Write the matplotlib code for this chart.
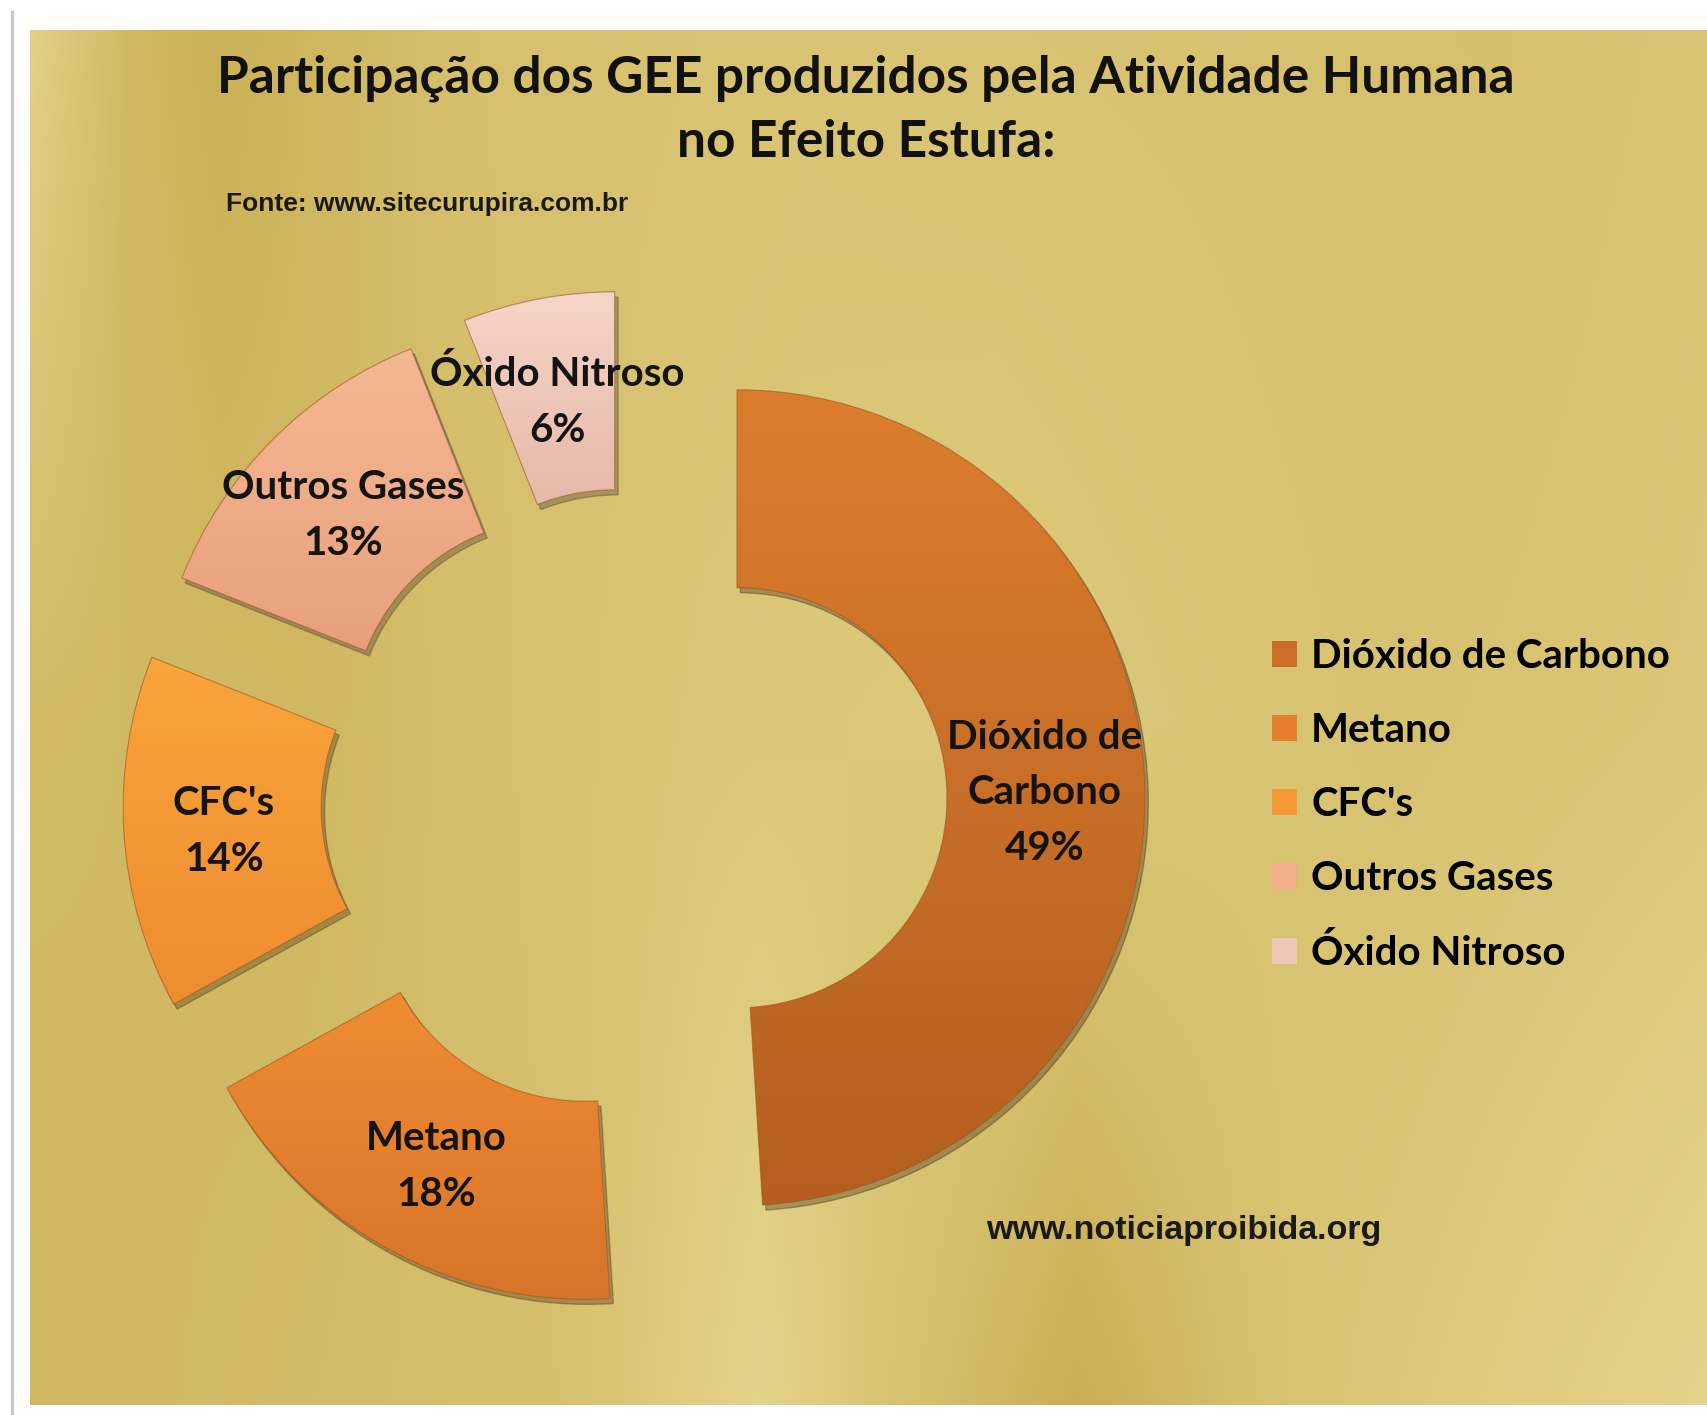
import numpy as np
import matplotlib
matplotlib.use('Agg')
import matplotlib.pyplot as plt
from matplotlib.colors import to_rgb

# --- DATA ---
gases = ["Dióxido de Carbono", "Metano", "CFC's", "Outros Gases", "Óxido Nitroso"]
slice_names = ["Dióxido de\nCarbono", "Metano", "CFC's", "Outros Gases", "Óxido Nitroso"]
shares = [49, 18, 14, 13, 6]

title_text = "Participação dos GEE produzidos pela Atividade Humana\nno Efeito Estufa:"
source_text = "Fonte: www.sitecurupira.com.br"
site_text = "www.noticiaproibida.org"

# --- STYLE ---
W, H, DPI = 1707, 1415, 100
cx, cy, R = 634, 801, 408          # pie centre / outer radius in pixels (from top-left)
ring_width = 1 - 210 / 408
explode_frac = 103 / 408

base_colors = ['#C96D27', '#E57F2E', '#F59836', '#F0AD88', '#EFC7B8']
top_colors = ['#DC7D2E', '#F08C32', '#FAA43C', '#F5B893', '#F6D5C8']
bottom_colors = ['#B45F20', '#D8742A', '#EE8C2F', '#E8A07C', '#E6B8A8']

label_font = dict(family=['Lato', 'DejaVu Sans'], fontweight='bold')
narrow_font = ['Liberation Sans Narrow', 'Liberation Sans', 'DejaVu Sans']


def gold_background(nh, nw):
    xs = np.linspace(30, W, nw)
    top = np.interp(xs, [30, 130, 220, 450, 800, 1200, 1500, 1707],
                    [0.8, 0.3, 0.15, 0.45, 0.55, 0.5, 0.45, 0.55])
    mid = np.interp(xs, [30, 300, 700, 1000, 1400, 1707],
                    [0.35, 0.3, 0.6, 0.65, 0.5, 0.6])
    bot = np.interp(xs, [30, 250, 550, 760, 900, 1078, 1300, 1500, 1707],
                    [0.3, 0.35, 0.45, 0.85, 0.5, 0.1, 0.55, 0.7, 0.85])
    wy = np.linspace(0, 1, nh)[:, None]
    t = np.where(wy < 0.5,
                 top + (mid - top) * (wy / 0.5),
                 mid + (bot - mid) * ((wy - 0.5) / 0.5))
    dark = np.array(to_rgb('#C6AA4C'))
    light = np.array(to_rgb('#E9DA95'))
    return dark + t[..., None] * (light - dark)


fig = plt.figure(figsize=(W / DPI, H / DPI), dpi=DPI)
fig.patch.set_facecolor('white')

# background panel (pixel coordinates)
bg = fig.add_axes([0, 0, 1, 1])
bg.imshow(gold_background(200, 400), extent=(30, W, 1405, 30),
          aspect='auto', interpolation='bicubic')
bg.plot([11.5, 11.5], [12, H], color='#C9C9C9', lw=2.5)
bg.set_xlim(0, W)
bg.set_ylim(H, 0)
bg.axis('off')

# pie axes: 1 data unit = R pixels
ax = fig.add_axes([0, 0, 1, 1])
ax.patch.set_alpha(0)

wedges, texts = ax.pie(
    shares,
    labels=[f"{n}\n{v}%" for n, v in zip(slice_names, shares)],
    colors=base_colors,
    startangle=90,
    counterclock=False,
    explode=[explode_frac] * len(shares),
    labeldistance=0.755,
    wedgeprops=dict(width=ring_width, edgecolor='none'),
    shadow=dict(ox=0.006, oy=-0.009, alpha=0.35),
    textprops=dict(fontsize=29, color='#141414', linespacing=1.63, **label_font),
)
for t in texts:
    t.set_ha('center')
    t.set_va('center')
    x, y = t.get_position()
    t.set_position((x, y - 0.012))

leg = ax.legend(wedges, gases, loc='upper left',
                bbox_to_anchor=(1272 / W, 1 - 638 / H), bbox_transform=fig.transFigure,
                frameon=False, prop=dict(size=29, weight='bold', family=['Lato', 'DejaVu Sans']),
                handlelength=0.62, handleheight=0.62, handletextpad=0.35,
                labelspacing=0.92, borderpad=0, borderaxespad=0)

# vertical gradient inside each wedge
for w, c_top, c_bot in zip(wedges, top_colors, bottom_colors):
    x0, y0, x1, y1 = w.get_path().get_extents().extents
    g = np.linspace(0, 1, 256)[:, None, None]
    img = np.array(to_rgb(c_top)) * (1 - g) + np.array(to_rgb(c_bot)) * g
    im = ax.imshow(img, extent=(x0, x1, y0, y1), origin='upper',
                   aspect='auto', interpolation='bilinear', zorder=1.5)
    im.set_clip_path(w)
    w.set_facecolor('none')
    w.set_edgecolor('#9A5520')
    w.set_linewidth(0.8)
    w.set_alpha(0.6)
    w.set_zorder(2)

ax.set_xlim(-cx / R, (W - cx) / R)
ax.set_ylim((cy - H) / R, cy / R)
ax.axis('off')

fig.text(866 / W, 1 - 110 / H, title_text, ha='center', va='center',
         fontsize=37, linespacing=1.45, color='#111111', **label_font)
fig.text(226 / W, 1 - 204 / H, source_text, ha='left', va='center',
         fontsize=19, fontweight='bold', family=narrow_font, color='#1a1a1a')
fig.text(986 / W, 1 - 1230 / H, site_text, ha='left', va='center',
         fontsize=24.5, fontweight='bold', family=narrow_font, color='#1a1a1a')

fig.savefig('out.png', dpi=DPI)
